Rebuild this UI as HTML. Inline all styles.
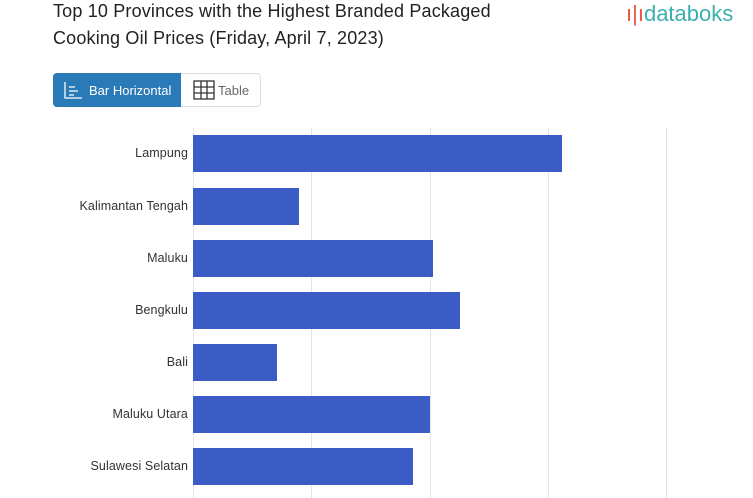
<!DOCTYPE html>
<html><head><meta charset="utf-8"><style>
body{margin:0;width:753px;height:498px;background:#fff;font-family:"Liberation Sans",sans-serif;position:relative;overflow:hidden}
.t{position:absolute;left:53px;font-size:18px;color:#222;letter-spacing:0.17px}
.logo{position:absolute;left:626px;top:1px;font-size:22px;color:#3bb0ad;letter-spacing:0px}
.btn{position:absolute;top:73px;height:34px;box-sizing:border-box;font-size:13px;display:flex;align-items:center}
.g{position:absolute;top:128px;height:370px;width:1px;background:#e4e4e4}
.b{position:absolute;left:193px;background:#3b5cc4;height:37px}
.l{position:absolute;right:565px;font-size:12.5px;color:#333;text-align:right;white-space:nowrap;letter-spacing:0.1px}
</style></head><body>
<div class="t" style="top:1px">Top 10 Provinces with the Highest Branded Packaged</div>
<div class="t" style="top:28px">Cooking Oil Prices (Friday, April 7, 2023)</div>
<div class="logo"><span style="color:#e8553d">ı|ı</span>databoks</div>
<div class="btn" style="left:53px;width:208px;border:1px solid #ddd;border-radius:4px"></div>
<div class="btn" style="left:53px;width:128px;background:#2a7ab8;color:#fff;border-radius:4px 0 0 4px;padding-left:10px">
<svg width="20" height="18" style="margin-right:6px"><path d="M2 1v16h17" stroke="#fff" fill="none" stroke-width="1.3"/><path d="M6 6h6M6 10h9M6 14h5" stroke="#fff" stroke-width="1.3"/></svg>Bar Horizontal</div>
<div class="btn" style="left:193px;color:#666">
<svg width="22" height="20" style="margin-right:3px"><rect x="1" y="1" width="20" height="18" fill="none" stroke="#333" stroke-width="1.3"/><path d="M8 1v18M14 1v18M1 7h20M1 13h20" stroke="#333" stroke-width="1.3"/></svg>Table</div>
<div class="g" style="left:193px"></div><div class="g" style="left:311px"></div><div class="g" style="left:430px"></div><div class="g" style="left:548px"></div><div class="g" style="left:666px"></div>
<div class="b" style="top:135px;width:369px"></div><div class="l" style="top:146px">Lampung</div>
<div class="b" style="top:188px;width:106px"></div><div class="l" style="top:199px">Kalimantan Tengah</div>
<div class="b" style="top:240px;width:240px"></div><div class="l" style="top:251px">Maluku</div>
<div class="b" style="top:292px;width:267px"></div><div class="l" style="top:303px">Bengkulu</div>
<div class="b" style="top:344px;width:84px"></div><div class="l" style="top:355px">Bali</div>
<div class="b" style="top:396px;width:237px"></div><div class="l" style="top:407px">Maluku Utara</div>
<div class="b" style="top:448px;width:220px"></div><div class="l" style="top:459px">Sulawesi Selatan</div>
</body></html>
